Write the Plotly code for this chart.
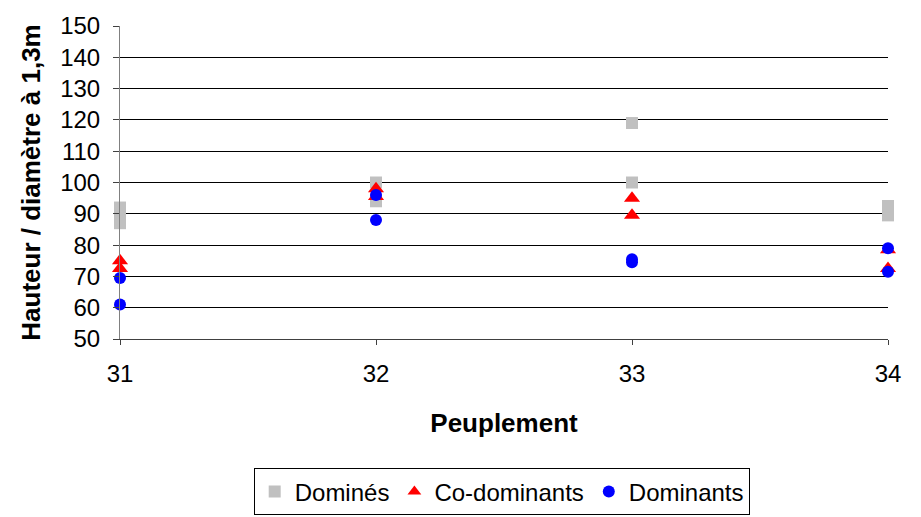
import plotly.graph_objects as go

# Peuplement stands and height/diameter ratios per crown class
stand_domines = [31, 31, 31, 32, 32, 33, 33, 34, 34]
val_domines = [87, 89.5, 92, 100, 94, 119, 100, 92.5, 89.5]

stand_codom = [31, 31, 32, 32, 33, 33, 34, 34]
val_codom = [75, 72.5, 98, 95.5, 95, 89.5, 78.5, 72.5]

stand_dom = [31, 31, 32, 32, 33, 33, 34, 34]
val_dom = [69.5, 61, 96, 88, 74.5, 75.5, 79, 71.5]

font_family = "Liberation Sans, Arial, sans-serif"

fig = go.Figure()
fig.add_trace(go.Scatter(
    x=stand_domines, y=val_domines, mode="markers", name="Dominés",
    marker=dict(symbol="square", size=12, color="#c0c0c0"),
    cliponaxis=False,
))
fig.add_trace(go.Scatter(
    x=stand_codom, y=val_codom, mode="markers", name="Co-dominants",
    marker=dict(symbol="triangle-up", size=14, color="#ff0000"),
    cliponaxis=False,
))
fig.add_trace(go.Scatter(
    x=stand_dom, y=val_dom, mode="markers", name="Dominants",
    marker=dict(symbol="circle", size=12, color="#0000ff"),
    cliponaxis=False,
))

fig.update_layout(
    width=921, height=517,
    margin=dict(l=120, r=33, t=24, b=178),
    paper_bgcolor="white", plot_bgcolor="white",
    font=dict(family=font_family, size=24, color="black"),
    showlegend=True,
    legend=dict(
        orientation="h", x=0.497, xanchor="center",
        yref="container", y=0.094, yanchor="top",
        bordercolor="black", borderwidth=1, bgcolor="white",
        font=dict(size=24), itemsizing="constant",
        tracegroupgap=0, itemwidth=30,
    ),
    xaxis=dict(
        range=[31, 34], tickvals=[31, 32, 33, 34],
        showgrid=False, zeroline=False,
        showline=True, linecolor="#404040", linewidth=1,
        ticks="outside", ticklen=5, tickcolor="#404040",
        ticklabelstandoff=8,
        title=dict(text="<b>Peuplement</b>", standoff=28, font=dict(size=26)),
    ),
    yaxis=dict(
        range=[50, 150], dtick=10,
        showgrid=True, gridcolor="#000000", gridwidth=1,
        zeroline=False,
        showline=True, linecolor="#808080", linewidth=1,
        ticks="outside", ticklen=6, tickcolor="#404040",
        ticklabelstandoff=8,
        title=dict(text="<b>Hauteur / diamètre à 1,3m</b>", standoff=12, font=dict(size=26)),
    ),
)

fig.write_html("out.html")
